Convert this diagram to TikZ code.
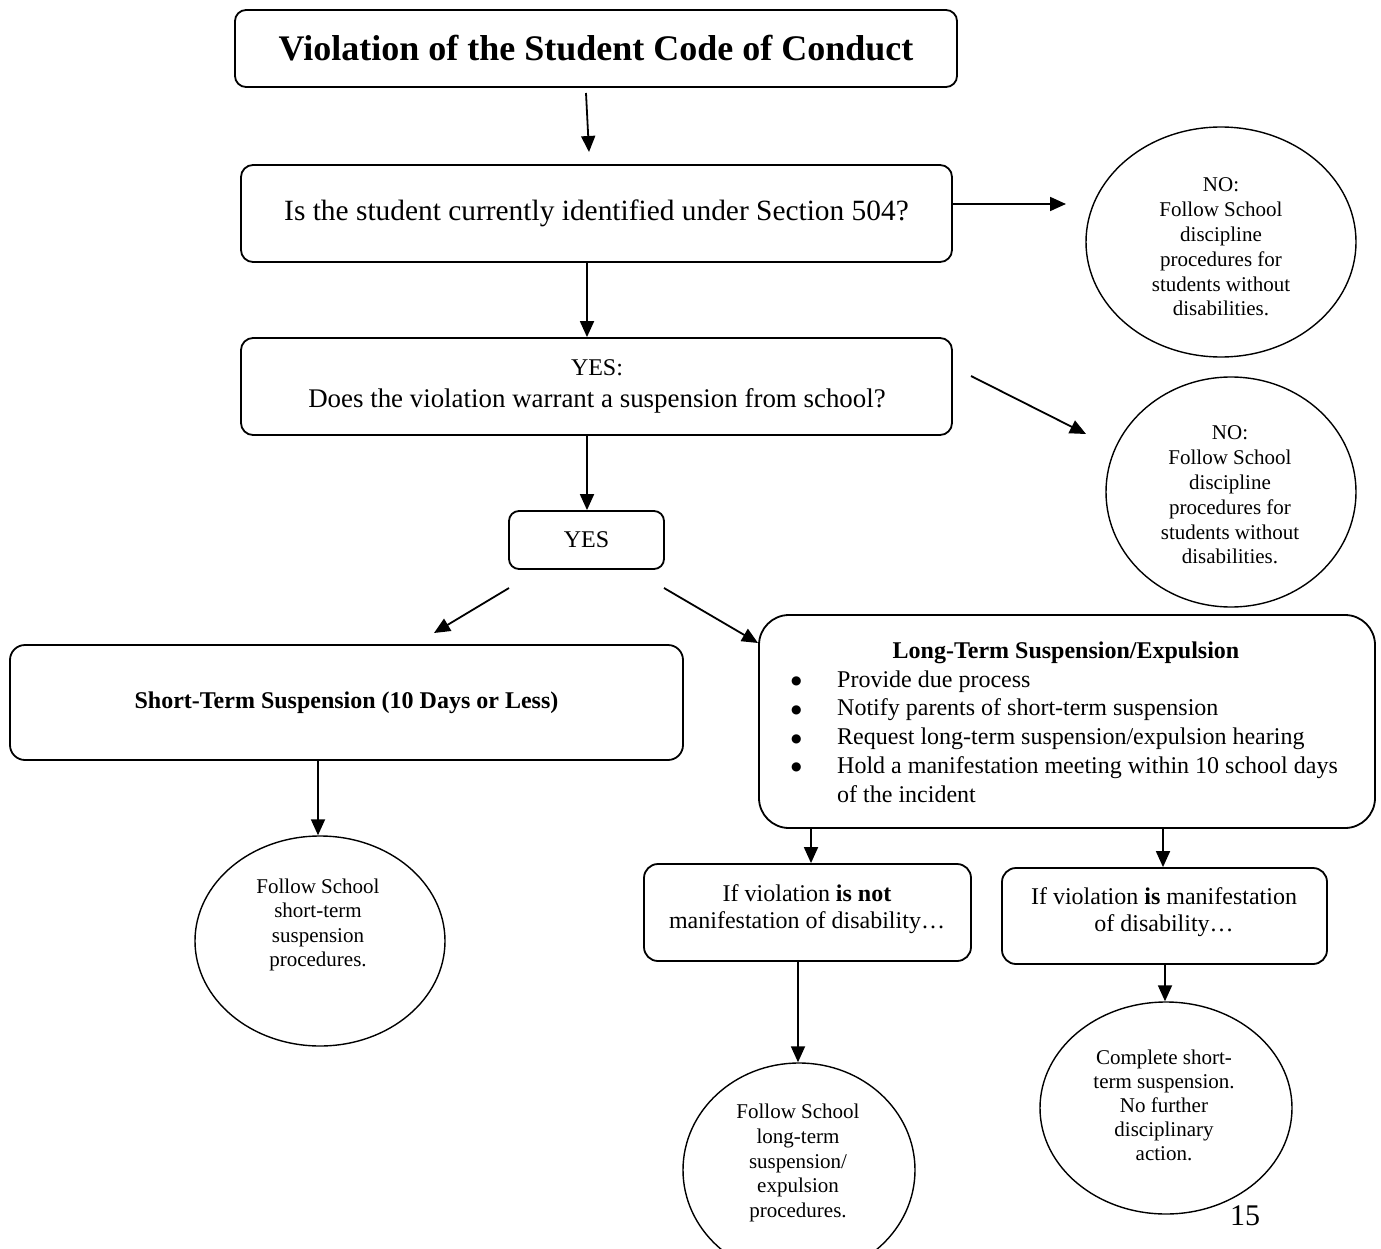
\documentclass[tikz,border=0pt]{standalone}
\usepackage{fontspec}
\setmainfont{Liberation Serif}
\newfontfamily\dejavu{DejaVu Sans}
\usetikzlibrary{arrows.meta,shapes.geometric}
\newcommand\fsz[2]{\fontsize{#1pt}{#2pt}\selectfont}
\newcommand\bigbul{\raisebox{2.5pt}{\dejavu\fsz{12}{14}●}}
\begin{document}
\begin{tikzpicture}[x=1pt,y=-1pt,
  box/.style={draw, line width=1.8pt, rounded corners=#1, inner sep=0pt, align=center},
  box/.default=12pt,
  ell/.style={draw, ellipse, line width=1.4pt, inner sep=0pt},
  txt/.style={align=center, inner sep=0pt},
  arr/.style={line width=1.8pt, -{Triangle[length=16pt,width=14pt]}},
]
\fill[white] (0,0) rectangle (1381,1249);
\useasboundingbox (0,0) rectangle (1381,1249);

% boxes
\node[box=11pt, minimum width=722pt, minimum height=77pt, font=\bfseries\fsz{36}{40}] (title) at (596,48.5) {Violation of the Student Code of Conduct};
\node[box, minimum width=711pt, minimum height=97pt, font=\fsz{29.4}{34}] (q1) at (596.5,213.5) {Is the student currently identified under Section 504?};
\node[box, minimum width=711pt, minimum height=97pt] (q2) at (596.5,386.5) {};
\node[txt, anchor=base, font=\fsz{24}{28}] (q2a) at (597,375) {YES:};
\node[txt, anchor=base, font=\fsz{26.9}{32}] (q2b) at (597,407) {Does the violation warrant a suspension from school?};
\node[box=10pt, minimum width=155pt, minimum height=58pt, font=\fsz{24}{28}] (yes) at (586.5,540) {YES};
\node[box=15pt, minimum width=673pt, minimum height=115pt, font=\bfseries\fsz{24}{28}] (st) at (346.5,702.5) {Short-Term Suspension (10 Days or Less)};
\node[box=30pt, minimum width=616pt, minimum height=213pt] (lt) at (1067,721.5) {};
\node[txt, anchor=base, font=\bfseries\fsz{24}{28}] (ltt) at (1066,658) {Long-Term Suspension/Expulsion};
\node[inner sep=0pt, anchor=base west, font=\fsz{24}{28.75}] (ltl) at (791,687) {%
\begin{tabular}[t]{@{}p{46pt}@{}l@{}}
\bigbul & Provide due process\\
\bigbul & Notify parents of short-term suspension\\
\bigbul & Request long-term suspension/expulsion hearing\\
\bigbul & Hold a manifestation meeting within 10 school days\\
 & of the incident
\end{tabular}};
\node[box=14pt, minimum width=327pt, minimum height=97pt] (bnot) at (807.5,912.5) {};
\node[txt, font=\fsz{24}{26.5}] (bnott) at (807,909) {If violation \textbf{is not}\\manifestation of disability…};
\node[box=14pt, minimum width=325pt, minimum height=96pt] (bis) at (1164.5,916) {};
\node[txt, font=\fsz{24}{26.5}] (bist) at (1164,912) {If violation \textbf{is} manifestation\\of disability…};

% ellipses
\node[ell, minimum width=270pt, minimum height=230pt] (no1) at (1221,242) {};
\node[txt, font=\fsz{21}{24.8}] (no1t) at (1221,247) {NO:\\Follow School\\discipline\\procedures for\\students without\\disabilities.};
\node[ell, minimum width=250pt, minimum height=230pt] (no2) at (1231,492) {};
\node[txt, font=\fsz{21}{24.8}] (no2t) at (1230,495) {NO:\\Follow School\\discipline\\procedures for\\students without\\disabilities.};
\node[ell, minimum width=250pt, minimum height=210pt] (e3) at (320,941) {};
\node[txt, font=\fsz{21}{24.5}] (e3t) at (318,925) {Follow School\\short-term\\suspension\\procedures.};
\node[ell, minimum width=232pt, minimum height=214pt] (e4) at (799,1170) {};
\node[txt, font=\fsz{21}{24.7}] (e4t) at (798,1163) {Follow School\\long-term\\suspension/\\expulsion\\procedures.};
\node[ell, minimum width=252pt, minimum height=212pt] (e5) at (1166,1108) {};
\node[txt, font=\fsz{21}{24}] (e5t) at (1164,1105) {Complete short-\\term suspension.\\No further\\disciplinary\\action.};

\node[txt, anchor=base, font=\fsz{30}{34}] (pg) at (1245,1225) {15};

% connector end points
\coordinate (a1s) at (586,93);
\coordinate (a1e) at (589,152);
\coordinate (a3s) at (q1.east |- 0,204);
\coordinate (a3e) at (1066,204);
\coordinate (a4s) at (971,376);
\coordinate (a4e) at (1086,434);
\coordinate (a6s) at (509,588);
\coordinate (a6e) at (434,633);
\coordinate (a7s) at (664,588);
\coordinate (a7e) at (758,643);

\draw[arr] (a1s) -- (a1e);
\draw[arr] (q1.south -| 587,0) -- (q2.north -| 587,0);
\draw[arr] (a3s) -- (a3e);
\draw[arr] (a4s) -- (a4e);
\draw[arr] (q2.south -| 587,0) -- (yes.north -| 587,0);
\draw[arr] (a6s) -- (a6e);
\draw[arr] (a7s) -- (a7e);
\draw[arr] (st.south -| 318,0) -- (e3.north -| 318,0);
\draw[arr] (lt.south -| 811,0) -- (bnot.north -| 811,0);
\draw[arr] (lt.south -| 1163,0) -- (bis.north -| 1163,0);
\draw[arr] (bnot.south -| 798,0) -- (e4.north -| 798,0);
\draw[arr] (bis.south -| 1165,0) -- (e5.north -| 1165,0);
\end{tikzpicture}
\end{document}
